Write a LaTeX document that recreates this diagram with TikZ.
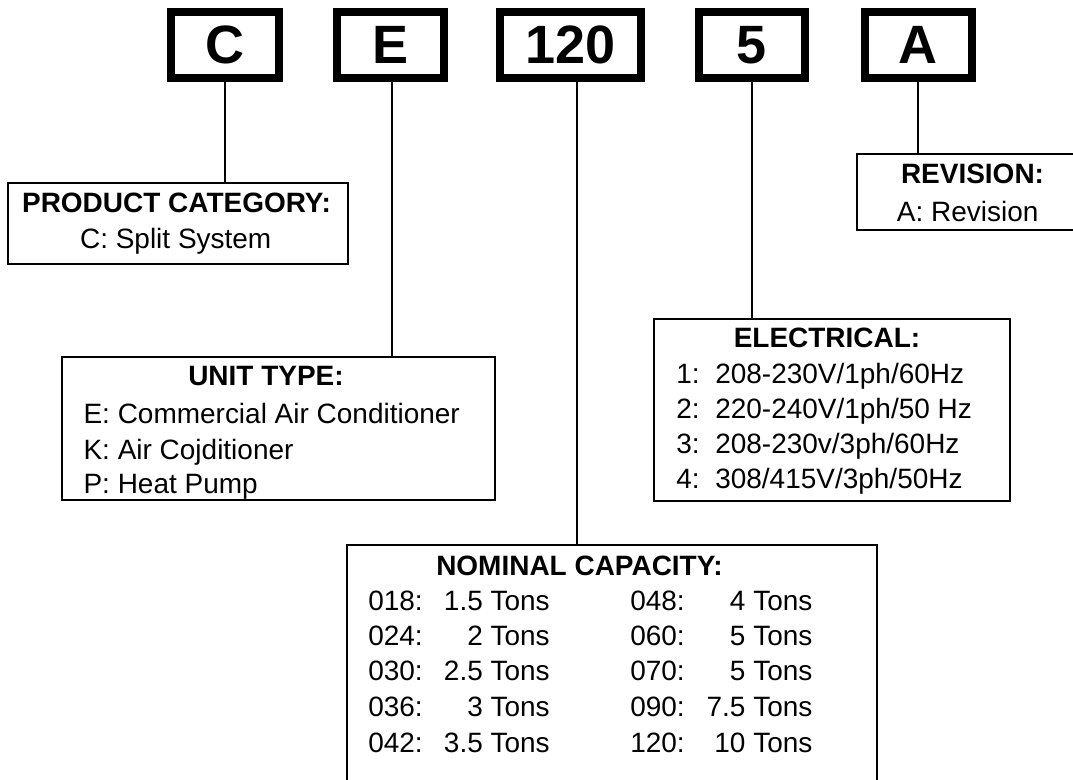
\documentclass[tikz,border=0pt]{standalone}
\usepackage{fontspec}
\setmainfont{Liberation Sans}
\usepackage{tikz}
\usetikzlibrary{positioning}
\usetikzlibrary{calc}

\tikzset{
  letter/.style={draw, line width=2mm, minimum width=27mm, minimum height=16.5mm, inner sep=0pt, font=\bfseries\fontsize{38.4}{40}\selectfont},
  infobox/.style={draw, line width=0.5mm, anchor=north west, inner sep=0pt},
  head/.style={anchor=base, inner sep=0pt, font=\bfseries\fontsize{19.9}{24}\selectfont},
  entry/.style={anchor=base west, inner sep=0pt, font=\fontsize{19.9}{24}\selectfont},
  amount/.style={anchor=base east, inner sep=0pt, font=\fontsize{19.9}{24}\selectfont},
  link/.style={line width=0.5mm},
}

\begin{document}
\begin{tikzpicture}[x=0.25mm,y=-0.25mm]
\useasboundingbox (0,0) rectangle (1073,779);
\clip (0,0) rectangle (1073,779);

\node[letter] (cat) at (225,45) {C};
\node[letter, minimum width=26.75mm] (typ) at (390.5,45) {E};
\node[letter, minimum width=35.25mm] (cap) at (570.5,45) {120};
\node[letter, minimum width=26.5mm] (ele) at (751.6,45) {5};
\node[letter, minimum width=26.75mm] (rev) at (918,45) {A};

% boxes
\node[infobox, minimum width=84.85mm, minimum height=20.25mm] (catbox) at (7.3,182) {};
\node[infobox, minimum width=108.3mm, minimum height=35.8mm] (typbox) at (61,356) {};
\node[infobox, minimum width=132.5mm, minimum height=64mm] (capbox) at (345.7,544.3) {};
\node[infobox, minimum width=89mm, minimum height=45.4mm] (elebox) at (653.3,318.3) {};
\node[infobox, minimum width=61.25mm, minimum height=19mm] (revbox) at (856,153.3) {};

\draw[link] (cat.south) -- (cat.south |- catbox.north);
\draw[link] ([xshift=0.4mm]typ.south) -- ([xshift=0.4mm]typ.south |- typbox.north);
\draw[link] ([xshift=1.6mm]cap.south) -- ([xshift=1.6mm]cap.south |- capbox.north);
\draw[link] (ele.south) -- (ele.south |- elebox.north);
\draw[link] (rev.south) -- (rev.south |- revbox.north);

% product category
\node[head] (cathead) at (176.5,212) {PRODUCT CATEGORY:};
\node[entry, anchor=base] (cat1) at (175.7,248) {C: Split System};

% unit type
\node[head] (typhead) at (266,385) {UNIT TYPE:};
\node[entry] (typ1) at (83.3,423.3) {E: Commercial Air Conditioner};
\node[entry] (typ2) at (83.3,459.3) {K: Air Cojditioner};
\node[entry] (typ3) at (83.3,493) {P: Heat Pump};

% revision
\node[head] (revhead) at (972.5,183.3) {REVISION:};
\node[entry] (rev1) at (896.7,221.7) {A: Revision};

% electrical
\node[head] (elehead) at (827,347) {ELECTRICAL:};
\node[entry] (ele1a) at (676,383) {1:};
\node[entry] (ele1b) at (715,383) {208-230V/1ph/60Hz};
\node[entry] (ele2a) at (676,418) {2:};
\node[entry] (ele2b) at (715,418) {220-240V/1ph/50 Hz};
\node[entry] (ele3a) at (676,453) {3:};
\node[entry] (ele3b) at (715,453) {208-230v/3ph/60Hz};
\node[entry] (ele4a) at (676,488) {4:};
\node[entry] (ele4b) at (715,488) {308/415V/3ph/50Hz};

% nominal capacity
\node[head] (caphead) at (579.5,575) {NOMINAL CAPACITY:};

\node[entry] (cap1a) at (368,610) {018:};
\node[amount] (cap1b) at (550,610) {1.5 Tons};
\node[entry] (cap2a) at (368,645) {024:};
\node[amount] (cap2b) at (550,645) {2 Tons};
\node[entry] (cap3a) at (368,680) {030:};
\node[amount] (cap3b) at (550,680) {2.5 Tons};
\node[entry] (cap4a) at (368,716) {036:};
\node[amount] (cap4b) at (550,716) {3 Tons};
\node[entry] (cap5a) at (368,752) {042:};
\node[amount] (cap5b) at (550,752) {3.5 Tons};

\node[entry] (cap6a) at (630,610) {048:};
\node[amount] (cap6b) at (812.7,610) {4 Tons};
\node[entry] (cap7a) at (630,645) {060:};
\node[amount] (cap7b) at (812.7,645) {5 Tons};
\node[entry] (cap8a) at (630,680) {070:};
\node[amount] (cap8b) at (812.7,680) {5 Tons};
\node[entry] (cap9a) at (630,716) {090:};
\node[amount] (cap9b) at (812.7,716) {7.5 Tons};
\node[entry] (cap10a) at (630,752) {120:};
\node[amount] (cap10b) at (812.7,752) {10 Tons};
\end{tikzpicture}
\end{document}
